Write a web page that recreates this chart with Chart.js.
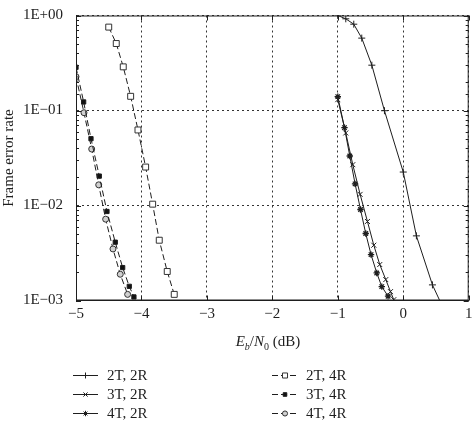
<!DOCTYPE html>
<html lang="en">
<head>
<meta charset="UTF-8">
<title>Frame error rate</title>
<script src="https://cdn.jsdelivr.net/npm/chart.js"></script>
<style>
  html, body { margin: 0; padding: 0; background: #fff; }
</style>
</head>
<body>
<canvas id="ferChart" width="474" height="424"></canvas>
<script>
// tick labels
const xTickLabels = ['\u22125', '\u22124', '\u22123', '\u22122', '\u22121', '0', '1'];
const yTickLabels = ['1E+00', '1E\u221201', '1E\u221202', '1E\u221203'];

// series (Eb/N0 in dB, frame error rate)
const labels = ['2T, 2R', '3T, 2R', '4T, 2R', '2T, 4R', '3T, 4R', '4T, 4R'];

const ebn0_2T2R = [-1.0, -0.878, -0.756, -0.634, -0.48, -0.287, 0.0, 0.201, 0.446, 0.557];
const fer_2T2R  = [1.0, 0.923, 0.81, 0.578, 0.30, 0.0995, 0.0225, 0.00479, 0.00146, 0.001];

const ebn0_3T2R = [-1.0, -0.878, -0.771, -0.659, -0.547, -0.45, -0.359, -0.267, -0.195, -0.145];
const fer_3T2R  = [0.13, 0.058, 0.0269, 0.0131, 0.00679, 0.00382, 0.00239, 0.00166, 0.00124, 0.00102];

const ebn0_4T2R = [-1.0, -0.898, -0.817, -0.736, -0.653, -0.573, -0.492, -0.405, -0.328, -0.232];
const fer_4T2R  = [0.14, 0.066, 0.0332, 0.0169, 0.00908, 0.00507, 0.00304, 0.00195, 0.0014, 0.00111];

const ebn0_2T4R = [-4.50, -4.385, -4.278, -4.165, -4.053, -3.936, -3.829, -3.728, -3.606, -3.499];
const fer_2T4R  = [0.755, 0.507, 0.288, 0.141, 0.0624, 0.0254, 0.01033, 0.00431, 0.00202, 0.00116];

const ebn0_3T4R = [-5.0, -4.883, -4.771, -4.644, -4.527, -4.40, -4.287, -4.186, -4.115];
const fer_3T4R  = [0.285, 0.123, 0.0505, 0.0204, 0.00865, 0.00411, 0.00222, 0.00141, 0.00109];

const ebn0_4T4R = [-5.0, -4.878, -4.76, -4.653, -4.547, -4.435, -4.324, -4.211];
const fer_4T4R  = [0.227, 0.0948, 0.0393, 0.0165, 0.00718, 0.00349, 0.00189, 0.00116];

const SERIF = '"Liberation Serif", "DejaVu Serif", serif';
const INK = '#1e1e1e';

function pts(xs, ys) {
  return xs.map((x, i) => ({ x: x, y: ys[i] }));
}

function isDecade(v) {
  const l = Math.log10(v);
  return Math.abs(l - Math.round(l)) < 1e-6;
}

const base = {
  showLine: true,
  fill: false,
  tension: 0,
  borderColor: INK,
  borderWidth: 1,
  pointBorderColor: INK,
  pointBorderWidth: 1
};

const datasets = [
  Object.assign({}, base, { label: labels[0], data: pts(ebn0_2T2R, fer_2T2R),
    pointStyle: 'cross', pointRadius: fer_2T2R.map((v, i) => i === fer_2T2R.length - 1 ? 0 : 3.5),
    pointBackgroundColor: INK }),
  Object.assign({}, base, { label: labels[1], data: pts(ebn0_3T2R, fer_3T2R),
    pointStyle: 'crossRot', pointRadius: 3.5, pointBackgroundColor: INK }),
  Object.assign({}, base, { label: labels[2], data: pts(ebn0_4T2R, fer_4T2R),
    pointStyle: 'star', pointRadius: 3.2, pointBorderWidth: 1.3, pointBackgroundColor: INK }),
  Object.assign({}, base, { label: labels[3], data: pts(ebn0_2T4R, fer_2T4R), borderDash: [6, 3],
    pointStyle: 'rect', pointRadius: 4.2, pointBackgroundColor: '#fff', pointBorderColor: '#333' }),
  Object.assign({}, base, { label: labels[4], data: pts(ebn0_3T4R, fer_3T4R), borderDash: [6, 3],
    pointStyle: 'rect', pointRadius: 3, pointBackgroundColor: '#111' }),
  Object.assign({}, base, { label: labels[5], data: pts(ebn0_4T4R, fer_4T4R), borderDash: [6, 3],
    pointStyle: 'circle', pointRadius: 3, pointBackgroundColor: '#d0d0d0', pointBorderColor: '#333' })
];

// frame, inward ticks, x title and two-column legend
const decorPlugin = {
  id: 'decor',
  afterDraw(chart) {
    const ctx = chart.ctx;
    const a = chart.chartArea;
    const ys = chart.scales.y;
    const xs = chart.scales.x;
    ctx.save();
    ctx.strokeStyle = INK;
    ctx.lineWidth = 1;
    ctx.setLineDash([]);
    ctx.strokeRect(a.left + 0.5, a.top + 0.5, a.right - a.left - 1, a.bottom - a.top - 1);

    // inward tick marks
    ctx.beginPath();
    ys.ticks.forEach(t => {
      const y = Math.round(ys.getPixelForValue(t.value)) + 0.5;
      const len = isDecade(t.value) ? 5 : 3;
      ctx.moveTo(a.left, y); ctx.lineTo(a.left + len, y);
      ctx.moveTo(a.right, y); ctx.lineTo(a.right - len, y);
    });
    xs.ticks.forEach(t => {
      const x = Math.round(xs.getPixelForValue(t.value)) + 0.5;
      ctx.moveTo(x, a.bottom); ctx.lineTo(x, a.bottom - 5);
      ctx.moveTo(x, a.top); ctx.lineTo(x, a.top + 5);
    });
    ctx.stroke();

    // x axis title: E_b/N_0 (dB)
    const parts = [
      { t: 'E', f: 'italic 15px ' + SERIF, dy: 0 },
      { t: 'b', f: 'italic 10px ' + SERIF, dy: 4 },
      { t: '/', f: '15px ' + SERIF, dy: 0 },
      { t: 'N', f: 'italic 15px ' + SERIF, dy: 0 },
      { t: '0', f: '10px ' + SERIF, dy: 4 },
      { t: ' (dB)', f: '15px ' + SERIF, dy: 0 }
    ];
    let total = 0;
    parts.forEach(p => { ctx.font = p.f; p.w = ctx.measureText(p.t).width; total += p.w; });
    let cx = 268 - total / 2;
    ctx.fillStyle = INK;
    ctx.textBaseline = 'alphabetic';
    ctx.textAlign = 'left';
    parts.forEach(p => { ctx.font = p.f; ctx.fillText(p.t, cx, 346 + p.dy); cx += p.w; });

    // legend
    const H = Chart.helpers || {};
    const cols = [{ x0: 73, x1: 98, tx: 107 }, { x0: 272, x1: 298, tx: 306 }];
    const rows = [375, 394, 413];
    chart.data.datasets.forEach((ds, i) => {
      const c = cols[Math.floor(i / 3)];
      const y = rows[i % 3] + 0.5;
      ctx.strokeStyle = ds.borderColor;
      ctx.lineWidth = 1;
      ctx.setLineDash(ds.borderDash || []);
      ctx.beginPath(); ctx.moveTo(c.x0, y); ctx.lineTo(c.x1, y); ctx.stroke();
      ctx.setLineDash([]);
      const mx = (c.x0 + c.x1) / 2;
      ctx.fillStyle = ds.pointBackgroundColor;
      ctx.strokeStyle = ds.pointBorderColor;
      const r = Array.isArray(ds.pointRadius) ? ds.pointRadius[0] : ds.pointRadius;
      if (H.drawPoint) {
        H.drawPoint(ctx, { pointStyle: ds.pointStyle, rotation: 0, radius: r * 0.85, borderWidth: ds.pointBorderWidth }, mx, y);
      }
      ctx.fillStyle = INK;
      ctx.font = '15px ' + SERIF;
      ctx.textBaseline = 'middle';
      ctx.fillText(ds.label, c.tx, rows[i % 3] + 1);
    });
    ctx.restore();
  }
};

new Chart(document.getElementById('ferChart'), {
  type: 'line',
  data: { datasets: datasets },
  options: {
    responsive: false,
    animation: false,
    layout: { padding: { left: 0, right: 5, top: 15.5, bottom: 0 } },
    plugins: { legend: { display: false }, tooltip: { enabled: false } },
    scales: {
      x: {
        type: 'linear',
        min: -5,
        max: 1,
        afterFit: s => { s.height = 123.5; s.paddingLeft = 0; s.paddingRight = 0; },
        ticks: {
          stepSize: 1,
          padding: 5,
          color: INK,
          font: { family: SERIF, size: 15 },
          callback: v => xTickLabels[Math.round(v) + 5]
        },
        grid: { color: '#333', lineWidth: 1, drawTicks: false },
        border: { display: true, color: INK, dash: [2, 3] }
      },
      y: {
        type: 'logarithmic',
        min: 0.001,
        max: 1,
        afterFit: s => { s.width = 76; s.paddingTop = 0; s.paddingBottom = 0; },
        ticks: {
          autoSkip: false,
          padding: 13,
          color: INK,
          font: { family: SERIF, size: 15 },
          callback: v => isDecade(v) ? yTickLabels[-Math.round(Math.log10(v))] : ''
        },
        grid: {
          drawTicks: false,
          lineWidth: 1,
          color: c => (c.tick && isDecade(c.tick.value)) ? '#333' : 'rgba(0,0,0,0)'
        },
        border: { display: true, color: INK, dash: [2, 3] },
        title: {
          display: true,
          text: 'Frame error rate',
          color: INK,
          padding: 0,
          font: { family: SERIF, size: 15 }
        }
      }
    }
  },
  plugins: [decorPlugin]
});
</script>
</body>
</html>
